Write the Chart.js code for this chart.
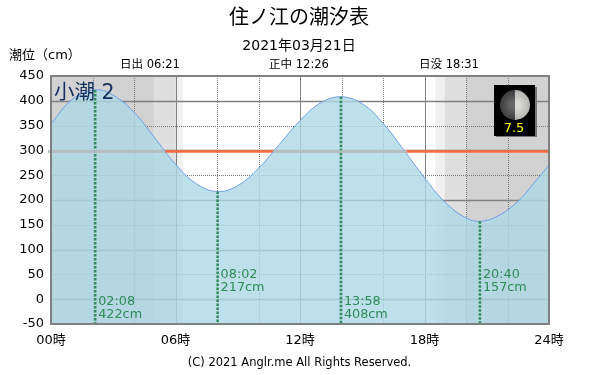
<!DOCTYPE html>
<html lang="ja">
<head>
<meta charset="utf-8">
<title>住ノ江の潮汐表</title>
<script src="https://cdn.jsdelivr.net/npm/chart.js@4/dist/chart.umd.js"></script>
<style>
  html, body { margin: 0; padding: 0; background: #fff; }
  canvas { display: block; }
</style>
</head>
<body>
<canvas id="tide" width="600" height="375"></canvas>
<script>
/* ── Data ── */
const tideHours = [0, 1, 2.13, 3, 4, 5, 6, 7, 8.03, 9, 10, 11, 12, 13, 13.97, 15, 16, 17, 18, 19, 20, 20.67, 21.5, 22.5, 23.25, 24];
const tideLevels = [353, 402, 422, 411, 377, 325, 272, 233, 217, 229, 264, 312, 360, 396, 408, 394, 355, 301, 245, 195, 164, 157, 167, 197, 233, 270];
const extremeHours = [2.13, 8.03, 13.97, 20.67];
const extremeLevels = [422, 217, 408, 157];
const extremeTimes = ['02:08', '08:02', '13:58', '20:40'];
const extremeHeights = ['422cm', '217cm', '408cm', '157cm'];
const darkBands = [[0, 4.96], [20, 24]];
const duskBands = [[4.96, 6.02], [18.96, 20]];
const twilightBands = [[6.02, 6.35], [18.52, 18.96]];
const sunLabels = ['日出 06:21', '正中 12:26', '日没 18:31'];
const meanLevel = 298;
const meanSpansInFill = [[0, 5.49], [10.7, 17.15]];

const FONT = '"DejaVu Sans", "Noto Sans CJK JP", sans-serif';
const SEAGREEN = '#2e8b57';

/* ── Background bands, grid and reference lines, under the tide fill ── */
const backdrop = {
    id: 'backdrop',
    beforeDatasetsDraw(chart) {
        const { ctx, chartArea: a, scales: { x, y } } = chart;
        const band = (list, color) => {
            ctx.fillStyle = color;
            for (const [from, to] of list) {
                const x0 = x.getPixelForValue(from);
                ctx.fillRect(x0, a.top, x.getPixelForValue(to) - x0, a.height);
            }
        };
        ctx.save();
        band(darkBands, '#d2d2d2');
        band(duskBands, '#dfdfdf');
        band(twilightBands, '#f0f0f0');

        ctx.lineWidth = 1;
        for (let h = 2; h < 24; h += 2) {
            const px = Math.round(x.getPixelForValue(h)) + 0.5;
            const major = h % 6 === 0;
            ctx.strokeStyle = major ? '#808080' : '#777';
            ctx.setLineDash(major ? [] : [1, 1]);
            ctx.beginPath(); ctx.moveTo(px, a.top); ctx.lineTo(px, a.bottom); ctx.stroke();
        }
        for (let v = 0; v < 450; v += 50) {
            const py = Math.round(y.getPixelForValue(v)) + 0.5;
            const major = v % 100 === 0;
            ctx.lineWidth = major ? 1.5 : 1;
            ctx.strokeStyle = major ? '#808080' : '#777';
            ctx.setLineDash(major ? [] : [1, 1]);
            ctx.beginPath(); ctx.moveTo(a.left, py); ctx.lineTo(a.right, py); ctx.stroke();
        }
        ctx.setLineDash([]);

        ctx.strokeStyle = '#ff6a3c';
        ctx.lineWidth = 2.5;
        const oy = y.getPixelForValue(meanLevel);
        ctx.beginPath(); ctx.moveTo(a.left, oy); ctx.lineTo(a.right, oy); ctx.stroke();
        ctx.restore();
    },
    /* ── Frame, labels and moon, above the fill ── */
    afterDatasetsDraw(chart) {
        const { ctx, chartArea: a, scales: { x, y } } = chart;
        ctx.save();

        /* where the fill covers the orange line it reads as grey */
        ctx.strokeStyle = '#b4bec2';
        ctx.lineWidth = 2.5;
        const my = y.getPixelForValue(meanLevel);
        for (const [from, to] of meanSpansInFill) {
            ctx.beginPath();
            ctx.moveTo(from === 0 ? a.left - 3 : x.getPixelForValue(from), my);
            ctx.lineTo(x.getPixelForValue(to), my);
            ctx.stroke();
        }

        ctx.strokeStyle = '#808080';
        ctx.lineWidth = 2;
        ctx.strokeRect(a.left, a.top, a.width, a.height);

        ctx.textBaseline = 'middle';
        ctx.textAlign = 'center';
        ctx.fillStyle = '#000';
        ctx.font = '20px ' + FONT;
        ctx.fillText('住ノ江の潮汐表', 299, 19);
        ctx.font = '14px ' + FONT;
        ctx.fillText('2021年03月21日', 299, 46);
        ctx.font = '11.5px ' + FONT;
        ctx.fillText(sunLabels[0], 150, 65);
        ctx.fillText(sunLabels[1], 299, 65);
        ctx.fillText(sunLabels[2], 449, 65);
        ctx.fillText('(C) 2021 Anglr.me All Rights Reserved.', 299.5, 363);
        ctx.textAlign = 'left';
        ctx.font = '13px ' + FONT;
        ctx.fillText('潮位（cm）', 9, 56);

        ctx.fillStyle = '#14305f';
        ctx.font = '20.5px ' + FONT;
        ctx.fillText('小潮 2', 54, 94);

        ctx.fillStyle = SEAGREEN;
        ctx.font = '12.8px ' + FONT;
        extremeHours.forEach((h, i) => {
            const px = x.getPixelForValue(h) + 3;
            const base = i % 2 === 0 ? 302 : 275;
            ctx.fillText(extremeTimes[i], px, base);
            ctx.fillText(extremeHeights[i], px, base + 13);
        });

        drawMoon(ctx);
        ctx.restore();
    }
};

function drawMoon(ctx) {
    ctx.fillStyle = '#777';
    ctx.fillRect(496, 87, 41, 50);
    ctx.fillStyle = '#000';
    ctx.fillRect(494, 85, 41, 51);

    const cx = 515, cy = 105, r = 15;
    ctx.save();
    ctx.beginPath();
    ctx.arc(cx, cy, r, 0, Math.PI * 2);
    ctx.clip();
    const dark = ctx.createRadialGradient(cx - 2, cy, 3, cx, cy, r);
    dark.addColorStop(0, '#666');
    dark.addColorStop(1, '#3c3c3c');
    ctx.fillStyle = dark;
    ctx.fillRect(cx - r, cy - r, r, 2 * r);
    const lit = ctx.createRadialGradient(cx + 2, cy, 3, cx, cy, r);
    lit.addColorStop(0, '#dcdcd6');
    lit.addColorStop(1, '#b4b4ae');
    ctx.fillStyle = lit;
    ctx.fillRect(cx, cy - r, r, 2 * r);
    ctx.restore();

    ctx.fillStyle = '#ffff00';
    ctx.font = '13px ' + FONT;
    ctx.textAlign = 'center';
    ctx.fillText('7.5', 514, 129);
    ctx.textAlign = 'left';
}

const extremeDrops = extremeHours.map((h, i) => ({
    type: 'line',
    data: [{ x: h, y: extremeLevels[i] }, { x: h, y: -50 }],
    borderColor: SEAGREEN,
    borderWidth: 2.5,
    borderDash: [2.5, 1.5],
    pointRadius: 0,
    fill: false,
    order: 1,
}));

new Chart(document.getElementById('tide').getContext('2d'), {
    type: 'line',
    data: {
        datasets: [
            {
                data: tideHours.map((h, i) => ({ x: h, y: tideLevels[i] })),
                borderColor: '#6f9fe8',
                borderWidth: 1,
                backgroundColor: 'rgba(173,216,230,0.8)',
                fill: 'start',
                pointRadius: 0,
                tension: 0.4,
                order: 2,
            },
            ...extremeDrops,
        ]
    },
    options: {
        responsive: false,
        animation: false,
        layout: { padding: { top: 76, right: 51, bottom: 19, left: 0 } },
        plugins: { legend: { display: false }, tooltip: { enabled: false } },
        scales: {
            x: {
                type: 'linear', min: 0, max: 24,
                afterFit: (s) => { s.height = 32; },
                grid: { display: false, drawTicks: false },
                border: { display: false },
                ticks: {
                    stepSize: 6, maxRotation: 0, padding: 9, color: '#000',
                    font: { family: FONT, size: 13 },
                    callback: (v) => String(v).padStart(2, '0') + '時',
                },
            },
            y: {
                min: -50, max: 450,
                afterFit: (s) => { s.width = 51; },
                grid: { display: false, drawTicks: false },
                border: { display: false },
                ticks: {
                    stepSize: 50, padding: 7, color: '#000',
                    font: { family: FONT, size: 13 },
                },
            },
        },
    },
    plugins: [backdrop],
});
</script>
</body>
</html>
